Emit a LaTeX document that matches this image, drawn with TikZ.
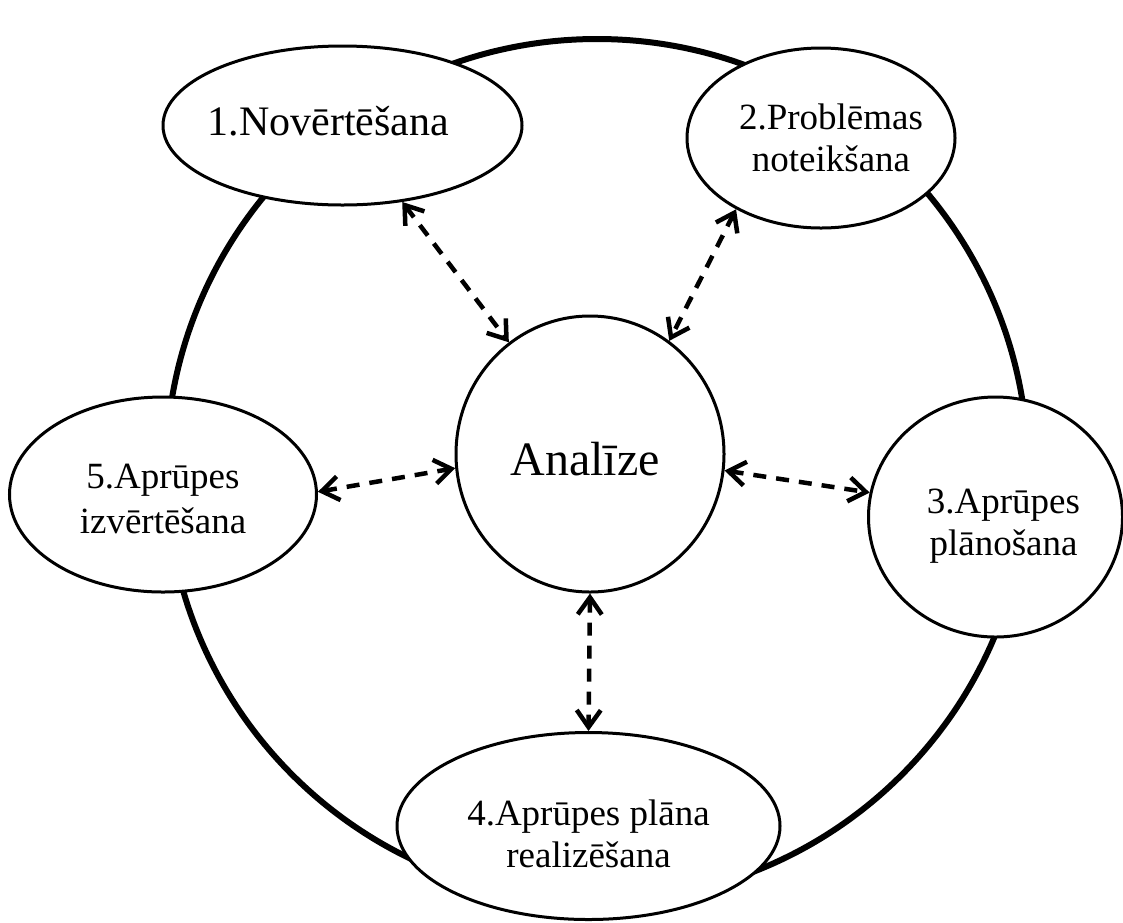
\documentclass[tikz,border=0pt]{standalone}
\usepackage{fontspec}
\setmainfont{Liberation Serif}
\usetikzlibrary{shapes.geometric,arrows.meta}
\newcommand\twolines[2]{\begin{tabular}[t]{@{}c@{}}#1\\#2\end{tabular}}
\begin{document}
\begin{tikzpicture}[x=1pt,y=-1pt,
  stage/.style={ellipse,draw,line width=3pt,fill=white,inner sep=0pt,
    font=\fontsize{37}{42}\selectfont},
  barb/.tip={Straight Barb[length=17pt,width=24pt,line width=4.5pt]},
  link/.style={line width=4.5pt,dash pattern=on 13pt off 10pt,barb-barb}]
\useasboundingbox (0,0) rectangle (1123,922);
\node (ring) [circle,draw,line width=6pt,minimum size=862pt,inner sep=0pt] at (597,470) {};
\node (n1) [stage,minimum width=359pt,minimum height=159pt,font=\fontsize{42}{46}\selectfont,
  text height=19pt,text depth=0pt] at (342.5,125.5) {\hspace*{-28pt}1.Novērtēšana};
\node (n2) [stage,minimum width=268pt,minimum height=180pt,text height=0pt,text depth=18pt]
  at (821,138) {\twolines{2.Problēmas}{noteikšana}\hspace*{-20pt}};
\node (n3) [stage,minimum width=254pt,minimum height=240pt,text height=0pt,text depth=8pt]
  at (995.5,517) {\twolines{3.Aprūpes}{plānošana}\hspace*{-16pt}};
\node (n4) [stage,minimum width=383pt,minimum height=187pt,text height=0pt,text depth=2pt]
  at (588.5,826) {\twolines{4.Aprūpes plāna}{realizēšana}};
\node (n5) [stage,minimum width=307pt,minimum height=195pt,text height=0pt,text depth=13pt,
  font=\fontsize{37}{45}\selectfont] at (163,494.5) {\twolines{5.Aprūpes}{izvērtēšana}};
\node (ana) [stage,minimum width=268pt,minimum height=276pt,font=\fontsize{48}{52}\selectfont,
  text height=42pt,text depth=0pt] at (590,454) {\hspace*{-10pt}Analīze};
\draw[link] (n1.308.8) -- (ana.126.4);
\draw[link] (n2.220.5) -- (ana.55.1);
\draw[link] (n5.1) -- (ana.186.4);
\draw[link] (ana.353.3) -- (n3.169.3);
\draw[link] (ana.270) -- (n4.90);
\end{tikzpicture}
\end{document}
